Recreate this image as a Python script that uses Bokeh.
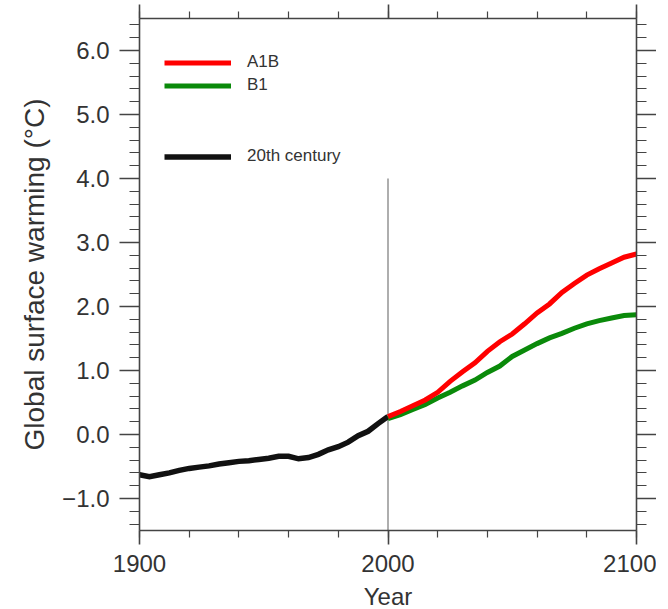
from bokeh.plotting import figure
from bokeh.models import (LinearAxis, SingleIntervalTicker, CustomJSTickFormatter,
                          Range1d, Legend, LegendItem)
from bokeh.embed import file_html
from bokeh.resources import INLINE

# ---- data ----
years_20c = [1900, 1904, 1908, 1912, 1916, 1920, 1924, 1928, 1932, 1936, 1940, 1944, 1948,
             1952, 1956, 1960, 1964, 1968, 1972, 1976, 1980, 1984, 1988, 1992, 1996, 2000]
temp_20c = [-0.63, -0.66, -0.63, -0.60, -0.56, -0.53, -0.51, -0.49, -0.46, -0.44, -0.42, -0.41,
            -0.39, -0.37, -0.34, -0.34, -0.38, -0.36, -0.31, -0.24, -0.19, -0.12, -0.02, 0.05,
            0.17, 0.28]

years_proj = [2000, 2005, 2010, 2015, 2020, 2025, 2030, 2035, 2040, 2045, 2050,
              2055, 2060, 2065, 2070, 2075, 2080, 2085, 2090, 2095, 2100]
temp_a1b = [0.28, 0.36, 0.45, 0.54, 0.66, 0.83, 0.98, 1.12, 1.30, 1.45, 1.57,
            1.73, 1.90, 2.04, 2.22, 2.36, 2.49, 2.59, 2.68, 2.77, 2.82]
temp_b1 = [0.25, 0.31, 0.39, 0.47, 0.57, 0.66, 0.76, 0.85, 0.97, 1.07, 1.22,
           1.32, 1.42, 1.51, 1.58, 1.66, 1.73, 1.78, 1.82, 1.86, 1.87]

divider_year = 2000
divider_bottom = -1.5
divider_top = 4.0

x_start, x_end = 1900, 2100
y_start, y_end = -1.5, 6.5

FONT = "Liberation Sans"
AXIS_COL = "#444444"
TEXT_COL = "#333333"
RED = "#ff0000"
GREEN = "#0a8a0a"
BLACK = "#111111"

FH = 512
TOP = 18
p = figure(frame_width=497, frame_height=FH, output_backend="svg", toolbar_location=None,
           x_axis_location=None, y_axis_location=None,
           min_border_left=139, min_border_top=TOP, min_border_right=20, min_border_bottom=60)
p.x_range = Range1d(x_start, x_end)
p.y_range = Range1d(y_start, y_end)
p.xgrid.visible = False
p.ygrid.visible = False
p.outline_line_color = None
p.background_fill_color = "white"

yfmt = CustomJSTickFormatter(code="""
    const s = Math.abs(tick).toFixed(1);
    return tick < -1e-9 ? "\u2212" + s : s;
""")
xfmt = CustomJSTickFormatter(code="return tick.toFixed(0);")
nofmt = CustomJSTickFormatter(code="return '';")

def style_axis(ax, out_major, out_minor, labels=True):
    ax.axis_line_color = AXIS_COL
    ax.axis_line_width = 1.6
    ax.major_tick_line_color = AXIS_COL
    ax.minor_tick_line_color = AXIS_COL
    ax.major_tick_line_width = 1.6
    ax.minor_tick_line_width = 1.2
    ax.major_tick_in = 0
    ax.minor_tick_in = 0
    ax.major_tick_out = out_major
    ax.minor_tick_out = out_minor
    if labels:
        ax.major_label_text_font = FONT
        ax.major_label_text_font_size = "24px"
        ax.major_label_text_color = TEXT_COL
        ax.axis_label_text_font = FONT
        ax.axis_label_text_font_style = "normal"
        ax.axis_label_text_color = TEXT_COL
    else:
        ax.formatter = nofmt
        ax.major_label_text_font_size = "1px"
        ax.major_label_standoff = 0

left = LinearAxis(ticker=SingleIntervalTicker(interval=1, num_minor_ticks=5), formatter=yfmt,
                  axis_label="Global surface warming (°C)")
style_axis(left, 20, 10)
left.major_label_standoff = 10
left.axis_label_text_font_size = "28px"
left.axis_label_standoff = 9
p.add_layout(left, "left")

right = LinearAxis(ticker=SingleIntervalTicker(interval=1, num_minor_ticks=5))
style_axis(right, 20, 10, labels=False)
p.add_layout(right, "right")

bottom = LinearAxis(ticker=SingleIntervalTicker(interval=100, num_minor_ticks=5), formatter=xfmt,
                    axis_label="Year")
style_axis(bottom, 14, 7)
bottom.major_label_standoff = 10
bottom.axis_label_text_font_size = "24px"
bottom.axis_label_standoff = 8
p.add_layout(bottom, "below")

top = LinearAxis(ticker=SingleIntervalTicker(interval=100, num_minor_ticks=5))
style_axis(top, 14, 7, labels=False)
p.add_layout(top, "above")

# divider at year 2000
p.segment(x0=[divider_year], y0=[divider_bottom], x1=[divider_year], y1=[divider_top],
          line_color="#9a9a9a", line_width=1.6)

r_20c = p.line(years_20c, temp_20c, line_color=BLACK, line_width=5.5, line_join="miter")
r_b1 = p.line(years_proj, temp_b1, line_color=GREEN, line_width=5, line_join="miter")
r_a1b = p.line(years_proj, temp_a1b, line_color=RED, line_width=5, line_join="miter")

def make_legend(items, loc):
    lg = Legend(items=items, location=loc, orientation="vertical")
    lg.border_line_color = None
    lg.background_fill_alpha = 0
    lg.padding = 0
    lg.margin = 0
    lg.spacing = 0
    lg.glyph_width = 67
    lg.glyph_height = 23
    lg.label_height = 23
    lg.label_standoff = 16
    lg.label_text_font = FONT
    lg.label_text_font_size = "17px"
    lg.label_text_color = TEXT_COL
    lg.label_text_baseline = "middle"
    return lg

leg1 = make_legend([LegendItem(label="A1B", renderers=[r_a1b]),
                    LegendItem(label="B1", renderers=[r_b1])], (25, FH - (63 - 19 - 11.5) - 46))
leg2 = make_legend([LegendItem(label="20th century", renderers=[r_20c])],
                   (25, FH - (157 - 19 - 11.5) - 23))
p.add_layout(leg1, "center")
p.add_layout(leg2, "center")

open("out.html", "w").write(file_html(p, INLINE))
